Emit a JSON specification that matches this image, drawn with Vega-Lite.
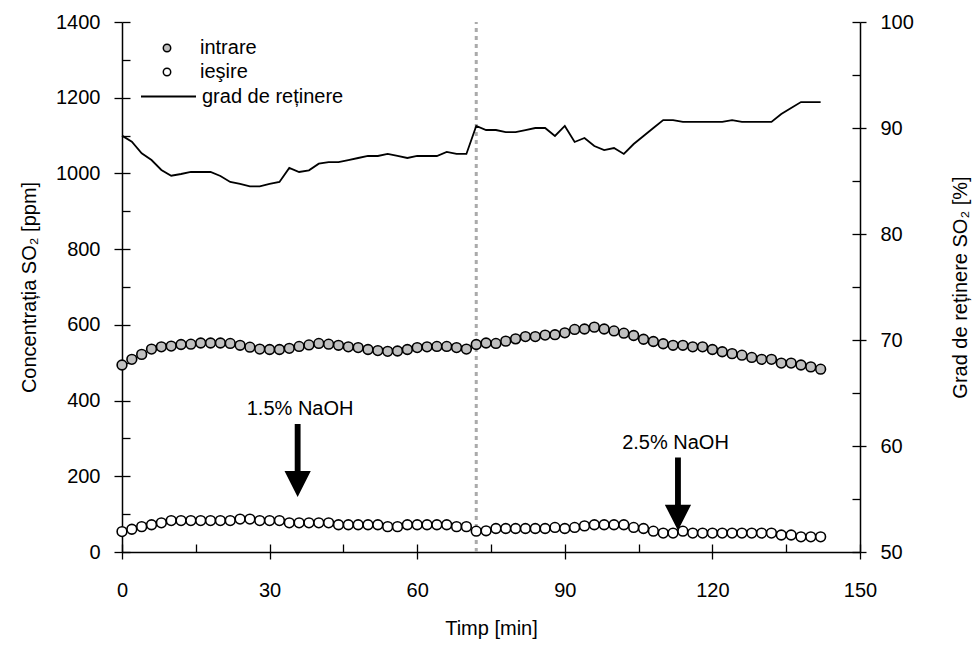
{
  "$schema": "https://vega.github.io/schema/vega-lite/v6.json",
  "width": 738,
  "height": 530,
  "autosize": {"type": "none"},
  "padding": {"left": 122, "top": 22, "right": 114, "bottom": 93},
  "config": {
    "view": {"stroke": null},
    "font": "Liberation Sans",
    "axis": {
      "grid": false,
      "domainColor": "black",
      "domainWidth": 1.5,
      "tickColor": "black",
      "tickWidth": 1.3,
      "labelColor": "black",
      "labelFont": "Liberation Sans",
      "labelFontSize": 20,
      "labelOverlap": false,
      "labelFlush": false,
      "titleColor": "black",
      "titleFont": "Liberation Sans",
      "titleFontSize": 20,
      "titleFontWeight": "normal"
    }
  },
  "datasets": {
    "concentratie": [
      {"t": 0, "intrare": 494, "ieşire": 54},
      {"t": 2, "intrare": 509, "ieşire": 60},
      {"t": 4, "intrare": 522, "ieşire": 67},
      {"t": 6, "intrare": 536, "ieşire": 72},
      {"t": 8, "intrare": 542, "ieşire": 77},
      {"t": 10, "intrare": 544, "ieşire": 83},
      {"t": 12, "intrare": 548, "ieşire": 83},
      {"t": 14, "intrare": 549, "ieşire": 83},
      {"t": 16, "intrare": 552, "ieşire": 83},
      {"t": 18, "intrare": 552, "ieşire": 83},
      {"t": 20, "intrare": 552, "ieşire": 83},
      {"t": 22, "intrare": 551, "ieşire": 83},
      {"t": 24, "intrare": 546, "ieşire": 87},
      {"t": 26, "intrare": 541, "ieşire": 87},
      {"t": 28, "intrare": 536, "ieşire": 83},
      {"t": 30, "intrare": 535, "ieşire": 83},
      {"t": 32, "intrare": 535, "ieşire": 83},
      {"t": 34, "intrare": 538, "ieşire": 77},
      {"t": 36, "intrare": 543, "ieşire": 77},
      {"t": 38, "intrare": 547, "ieşire": 77},
      {"t": 40, "intrare": 551, "ieşire": 77},
      {"t": 42, "intrare": 549, "ieşire": 77},
      {"t": 44, "intrare": 546, "ieşire": 72},
      {"t": 46, "intrare": 542, "ieşire": 72},
      {"t": 48, "intrare": 540, "ieşire": 72},
      {"t": 50, "intrare": 535, "ieşire": 72},
      {"t": 52, "intrare": 532, "ieşire": 72},
      {"t": 54, "intrare": 530, "ieşire": 67},
      {"t": 56, "intrare": 531, "ieşire": 67},
      {"t": 58, "intrare": 535, "ieşire": 72},
      {"t": 60, "intrare": 540, "ieşire": 72},
      {"t": 62, "intrare": 542, "ieşire": 72},
      {"t": 64, "intrare": 543, "ieşire": 72},
      {"t": 66, "intrare": 543, "ieşire": 72},
      {"t": 68, "intrare": 540, "ieşire": 67},
      {"t": 70, "intrare": 536, "ieşire": 67},
      {"t": 72, "intrare": 548, "ieşire": 55},
      {"t": 74, "intrare": 552, "ieşire": 56},
      {"t": 76, "intrare": 551, "ieşire": 62},
      {"t": 78, "intrare": 557, "ieşire": 62},
      {"t": 80, "intrare": 563, "ieşire": 62},
      {"t": 82, "intrare": 569, "ieşire": 62},
      {"t": 84, "intrare": 569, "ieşire": 62},
      {"t": 86, "intrare": 573, "ieşire": 62},
      {"t": 88, "intrare": 574, "ieşire": 65},
      {"t": 90, "intrare": 579, "ieşire": 62},
      {"t": 92, "intrare": 588, "ieşire": 65},
      {"t": 94, "intrare": 589, "ieşire": 69},
      {"t": 96, "intrare": 594, "ieşire": 72},
      {"t": 98, "intrare": 589, "ieşire": 72},
      {"t": 100, "intrare": 584, "ieşire": 72},
      {"t": 102, "intrare": 578, "ieşire": 72},
      {"t": 104, "intrare": 572, "ieşire": 65},
      {"t": 106, "intrare": 562, "ieşire": 62},
      {"t": 108, "intrare": 556, "ieşire": 55},
      {"t": 110, "intrare": 550, "ieşire": 50},
      {"t": 112, "intrare": 546, "ieşire": 50},
      {"t": 114, "intrare": 546, "ieşire": 55},
      {"t": 116, "intrare": 542, "ieşire": 50},
      {"t": 118, "intrare": 542, "ieşire": 50},
      {"t": 120, "intrare": 535, "ieşire": 50},
      {"t": 122, "intrare": 529, "ieşire": 50},
      {"t": 124, "intrare": 524, "ieşire": 50},
      {"t": 126, "intrare": 520, "ieşire": 50},
      {"t": 128, "intrare": 514, "ieşire": 50},
      {"t": 130, "intrare": 509, "ieşire": 50},
      {"t": 132, "intrare": 509, "ieşire": 50},
      {"t": 134, "intrare": 499, "ieşire": 45},
      {"t": 136, "intrare": 499, "ieşire": 45},
      {"t": 138, "intrare": 494, "ieşire": 40},
      {"t": 140, "intrare": 489, "ieşire": 40},
      {"t": 142, "intrare": 483, "ieşire": 40}
    ],
    "retinere": [
      {"t": 0, "grad": 89.28}, {"t": 2, "grad": 88.71}, {"t": 4, "grad": 87.61},
      {"t": 6, "grad": 86.98}, {"t": 8, "grad": 86.04}, {"t": 10, "grad": 85.5},
      {"t": 12, "grad": 85.66}, {"t": 14, "grad": 85.85}, {"t": 16, "grad": 85.85},
      {"t": 18, "grad": 85.85}, {"t": 20, "grad": 85.47}, {"t": 22, "grad": 84.91},
      {"t": 24, "grad": 84.72}, {"t": 26, "grad": 84.5}, {"t": 28, "grad": 84.5},
      {"t": 30, "grad": 84.72}, {"t": 32, "grad": 84.91}, {"t": 34, "grad": 86.23},
      {"t": 36, "grad": 85.85}, {"t": 38, "grad": 86.01}, {"t": 40, "grad": 86.63},
      {"t": 42, "grad": 86.79}, {"t": 44, "grad": 86.79}, {"t": 46, "grad": 86.98},
      {"t": 48, "grad": 87.17}, {"t": 50, "grad": 87.36}, {"t": 52, "grad": 87.36},
      {"t": 54, "grad": 87.55}, {"t": 56, "grad": 87.36}, {"t": 58, "grad": 87.17},
      {"t": 60, "grad": 87.36}, {"t": 62, "grad": 87.36}, {"t": 64, "grad": 87.36},
      {"t": 66, "grad": 87.74}, {"t": 68, "grad": 87.55}, {"t": 70, "grad": 87.55},
      {"t": 72, "grad": 90.19}, {"t": 74, "grad": 89.81}, {"t": 76, "grad": 89.81},
      {"t": 78, "grad": 89.62}, {"t": 80, "grad": 89.62}, {"t": 82, "grad": 89.81},
      {"t": 84, "grad": 90.0}, {"t": 86, "grad": 90.0}, {"t": 88, "grad": 89.25},
      {"t": 90, "grad": 90.19}, {"t": 92, "grad": 88.68}, {"t": 94, "grad": 89.06},
      {"t": 96, "grad": 88.3}, {"t": 98, "grad": 87.92}, {"t": 100, "grad": 88.11},
      {"t": 102, "grad": 87.55}, {"t": 104, "grad": 88.49}, {"t": 106, "grad": 89.25},
      {"t": 108, "grad": 90.0}, {"t": 110, "grad": 90.75}, {"t": 112, "grad": 90.75},
      {"t": 114, "grad": 90.57}, {"t": 116, "grad": 90.57}, {"t": 118, "grad": 90.57},
      {"t": 120, "grad": 90.57}, {"t": 122, "grad": 90.57}, {"t": 124, "grad": 90.75},
      {"t": 126, "grad": 90.57}, {"t": 128, "grad": 90.57}, {"t": 130, "grad": 90.57},
      {"t": 132, "grad": 90.57}, {"t": 134, "grad": 91.32}, {"t": 136, "grad": 91.89},
      {"t": 138, "grad": 92.45}, {"t": 140, "grad": 92.45}, {"t": 142, "grad": 92.45}
    ],
    "schimbare": [{"t": 72}],
    "adaos": [
      {"eticheta": "1.5% NaOH", "t": 35.7, "sageata": 242, "t_text": 36.2, "y_text": 378},
      {"eticheta": "2.5% NaOH", "t": 113, "sageata": 153, "t_text": 112.5, "y_text": 288}
    ]
  },
  "layer": [
    {
      "data": {"name": "schimbare"},
      "mark": {"type": "rule", "color": "#aaaaaa", "strokeWidth": 3, "strokeDash": [4, 4]},
      "encoding": {
        "x": {
          "field": "t", "type": "quantitative",
          "scale": {"domain": [0, 150], "nice": false},
          "axis": {
            "orient": "bottom",
            "values": [0, 15, 30, 45, 60, 75, 90, 105, 120, 135, 150],
            "tickSize": -8, "labels": false, "domain": false, "title": null
          }
        },
        "y": {
          "datum": 50, "type": "quantitative",
          "scale": {"domain": [50, 100], "nice": false},
          "axis": {
            "orient": "right",
            "values": [50, 55, 60, 65, 70, 75, 80, 85, 90, 95, 100],
            "tickSize": -8, "labels": false, "domain": false, "title": null
          }
        },
        "y2": {"datum": 100}
      }
    },
    {
      "data": {"name": "concentratie"},
      "transform": [{"fold": ["intrare", "ieşire"], "as": ["serie", "ppm"]}],
      "mark": {"type": "point", "shape": "circle", "filled": true, "stroke": "black", "strokeWidth": 1.6, "size": 95, "opacity": 1},
      "encoding": {
        "x": {
          "field": "t", "type": "quantitative",
          "scale": {"domain": [0, 150], "nice": false},
          "axis": {
            "orient": "bottom",
            "title": "Timp [min]",
            "values": [0, 30, 60, 90, 120, 150],
            "tickSize": 7,
            "labelPadding": 21,
            "titlePadding": 18
          }
        },
        "y": {
          "field": "ppm", "type": "quantitative",
          "scale": {"domain": [0, 1400], "nice": false},
          "axis": {
            "orient": "left",
            "title": "Concentrația SO₂ [ppm]",
            "values": [0, 200, 400, 600, 800, 1000, 1200, 1400],
            "format": "d",
            "tickSize": 8,
            "labelPadding": 14,
            "titlePadding": 16
          }
        },
        "fill": {
          "field": "serie", "type": "nominal",
          "scale": {"domain": ["intrare", "ieşire"], "range": ["#c0c0c0", "#ffffff"]},
          "legend": {
            "title": null, "orient": "none", "legendX": 35, "legendY": 16, "padding": 0,
            "labelFontSize": 20, "labelColor": "black", "labelFont": "Liberation Sans", "labelOffset": 23,
            "symbolType": "circle", "symbolSize": 55, "symbolStrokeWidth": 1.5, "symbolStrokeColor": "black", "rowPadding": 4,
            "encode": {
              "symbols": {
                "stroke": {"value": "black"},
                "strokeWidth": {"value": 1.5}
              }
            }
          }
        }
      }
    },
    {
      "data": {"name": "adaos"},
      "mark": {
        "type": "point",
        "shape": "M-0.08,-1L0.08,-1L0.08,0.29L0.36,0.29L0,1L-0.36,0.29L-0.08,0.29Z",
        "filled": true, "fill": "black", "strokeWidth": 0, "size": 5329, "opacity": 1
      },
      "encoding": {
        "x": {"field": "t", "type": "quantitative", "scale": {"domain": [0, 150], "nice": false}, "axis": null},
        "y": {
          "field": "sageata", "type": "quantitative",
          "scale": {"domain": [0, 1400], "nice": false},
          "axis": {
            "orient": "left",
            "values": [0, 100, 200, 300, 400, 500, 600, 700, 800, 900, 1000, 1100, 1200, 1300, 1400],
            "tickSize": -8, "labels": false, "domain": false, "title": null
          }
        }
      }
    },
    {
      "data": {"name": "adaos"},
      "mark": {"type": "text", "font": "Liberation Sans", "fontSize": 20, "color": "black", "align": "center", "baseline": "middle"},
      "encoding": {
        "x": {"field": "t_text", "type": "quantitative", "scale": {"domain": [0, 150], "nice": false}, "axis": null},
        "y": {"field": "y_text", "type": "quantitative", "scale": {"domain": [0, 1400], "nice": false}, "axis": null},
        "text": {"field": "eticheta"}
      }
    },
    {
      "data": {"name": "retinere"},
      "mark": {"type": "line", "strokeWidth": 1.8},
      "encoding": {
        "x": {"field": "t", "type": "quantitative", "scale": {"domain": [0, 150], "nice": false}, "axis": null},
        "y": {
          "field": "grad", "type": "quantitative",
          "scale": {"domain": [50, 100], "nice": false},
          "axis": {
            "orient": "right",
            "title": "Grad de reținere SO₂ [%]",
            "values": [50, 60, 70, 80, 90, 100],
            "tickSize": 6,
            "labelPadding": 14,
            "titleAngle": 270,
            "titleBaseline": "top",
            "titleX": 90
          }
        },
        "stroke": {
          "datum": "grad de reținere", "type": "nominal",
          "scale": {"domain": ["grad de reținere"], "range": ["black"]},
          "legend": {
            "title": null, "orient": "none", "legendX": 18, "legendY": 46, "padding": 0,
            "labelFontSize": 20, "labelColor": "black", "labelFont": "Liberation Sans", "labelOffset": 5,
            "symbolType": "stroke", "symbolSize": 3025, "symbolStrokeWidth": 1.8, "symbolStrokeColor": "black"
          }
        }
      }
    }
  ],
  "resolve": {"scale": {"y": "independent"}, "axis": {"x": "independent"}}
}
